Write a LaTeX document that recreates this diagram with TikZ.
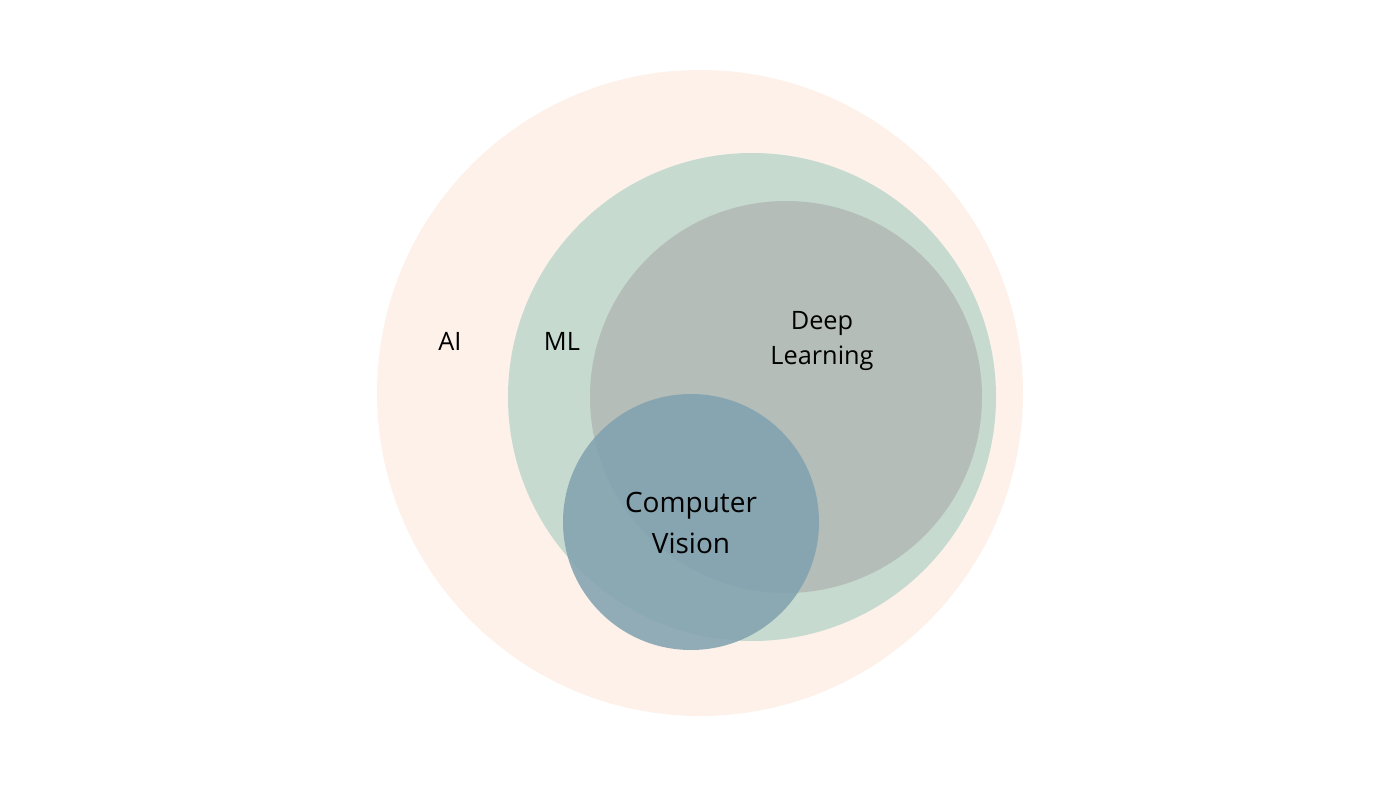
\documentclass[tikz,border=0pt]{standalone}
\usepackage{fontspec}
\setmainfont{Open Sans}
\begin{document}
\begin{tikzpicture}[x=0.75pt,y=-0.75pt,
  lbl/.style={font=\fontsize{19}{26}\selectfont, align=center, text=black},
  big/.style={font=\fontsize{21}{31}\selectfont, align=center, text=black}]
\definecolor{aicol}{HTML}{FDF1EA}
\definecolor{mlcol}{HTML}{C6DAD0}
\definecolor{dlcol}{HTML}{B4BDB8}
\definecolor{cvcol}{HTML}{80A1AF}
\useasboundingbox (0,0) rectangle (1400,788);
\fill[aicol] (700,393) circle (323) coordinate (ai);
\fill[mlcol] (752,397) circle (244);
\fill[dlcol] (786,397) circle (196);
\fill[cvcol, opacity=0.85] (691,522) circle (128);
\node[lbl] (tai) at (450,341) {AI};
\node[lbl] (tml) at (562,341) {ML};
\node[lbl] (tdl) at (822,341) {Deep\\Learning};
\node[big] (tcv) at (691,523) {Computer\\Vision};
\end{tikzpicture}
\end{document}
